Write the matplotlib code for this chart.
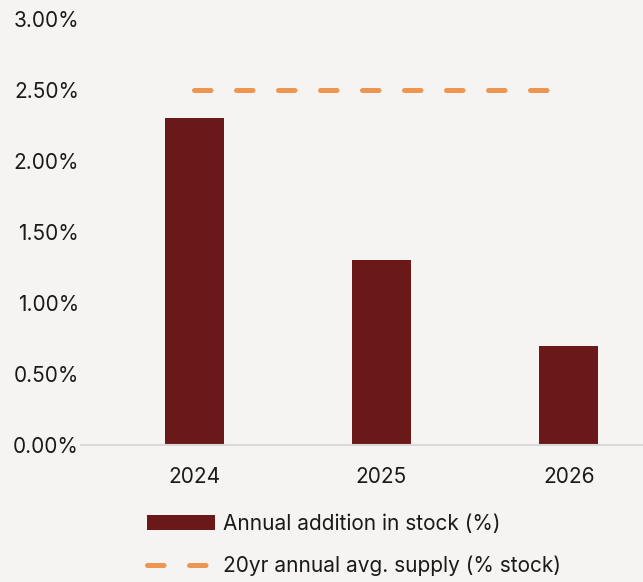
import matplotlib.pyplot as plt
from matplotlib.ticker import PercentFormatter

# Data
years = ["2024", "2025", "2026"]
annual_addition = [0.023, 0.013, 0.007]
avg_supply = 0.025
yticks = [0.0, 0.005, 0.010, 0.015, 0.020, 0.025, 0.030]

bg = "#f6f4f2"
bar_color = "#6b1819"
line_color = "#ec9652"

plt.rcParams["font.family"] = ["Inter", "DejaVu Sans"]

fig = plt.figure(figsize=(6.43, 5.82), dpi=100, facecolor=bg)
ax = fig.add_axes([81 / 643, 1 - 445 / 582, 562 / 643, 426 / 582], facecolor=bg)

x = range(len(years))
bars = ax.bar(x, annual_addition, width=0.315, color=bar_color,
              label="Annual addition in stock (%)", zorder=2)
line, = ax.plot([0, len(years) - 1], [avg_supply, avg_supply], color=line_color, lw=3.6,
                dashes=(3.3, 5.1), dash_capstyle="round",
                label="20yr annual avg. supply (% stock)", zorder=3)

ax.set_xlim(-0.603, 2.395)
ax.set_ylim(0, 0.03)
ax.set_xticks(list(x))
ax.set_xticklabels(years)
ax.set_yticks(yticks)
ax.yaxis.set_major_formatter(PercentFormatter(1.0, decimals=2))
ax.tick_params(axis="both", length=0, labelsize=15, colors="#1a1a1a")
ax.tick_params(axis="x", pad=16)
ax.tick_params(axis="y", pad=1.5)

for side in ["top", "right", "left"]:
    ax.spines[side].set_visible(False)
ax.spines["bottom"].set_color("#d9d9d9")
ax.spines["bottom"].set_linewidth(1.5)

fig.legend(handles=[bars, line], loc="center left",
           bbox_to_anchor=(147 / 643, 1 - 545 / 582), ncol=1,
           frameon=False, fontsize=15, handlelength=3.25, handletextpad=0.38,
           labelspacing=1.04, borderpad=0, borderaxespad=0,
           labelcolor="#1a1a1a")

fig.savefig("out.png", dpi=100, facecolor=bg)
